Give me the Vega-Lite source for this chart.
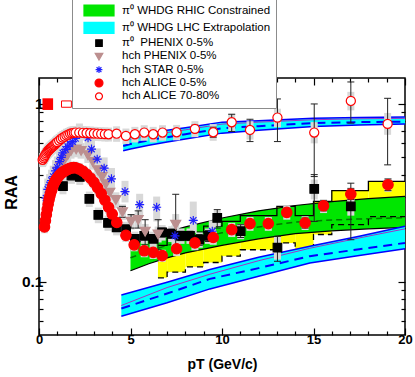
{
"$schema": "https://vega.github.io/schema/vega-lite/v6.json",
"width": 366, "height": 257,
"autosize": "none",
"padding": {"left": 39, "top": 78, "right": 10, "bottom": 42},
"config": {"view": {"stroke": "black", "strokeWidth": 1.5}, "font": "Liberation Sans",
  "axis": {"labelFont": "Liberation Sans", "titleFont": "Liberation Sans", "labelColor": "black", "titleColor": "black", "tickColor": "black", "grid": false, "domain": false}},
"datasets": {
"pts": [
{"s":"π⁰\u00a0 PHENIX 0-5%","x":1.31,"y":0.345,"lo":0.31,"hi":0.38},
{"s":"π⁰\u00a0 PHENIX 0-5%","x":1.77,"y":0.395,"lo":0.355,"hi":0.435},
{"s":"π⁰\u00a0 PHENIX 0-5%","x":2.23,"y":0.388,"lo":0.35,"hi":0.427},
{"s":"π⁰\u00a0 PHENIX 0-5%","x":2.75,"y":0.292,"lo":0.263,"hi":0.321},
{"s":"π⁰\u00a0 PHENIX 0-5%","x":3.24,"y":0.237,"lo":0.213,"hi":0.261},
{"s":"π⁰\u00a0 PHENIX 0-5%","x":3.77,"y":0.214,"lo":0.193,"hi":0.235},
{"s":"π⁰\u00a0 PHENIX 0-5%","x":4.24,"y":0.202,"lo":0.182,"hi":0.222},
{"s":"π⁰\u00a0 PHENIX 0-5%","x":4.76,"y":0.197,"lo":0.177,"hi":0.217},
{"s":"π⁰\u00a0 PHENIX 0-5%","x":5.24,"y":0.174,"lo":0.157,"hi":0.191},
{"s":"π⁰\u00a0 PHENIX 0-5%","x":5.75,"y":0.181,"lo":0.163,"hi":0.199},
{"s":"π⁰\u00a0 PHENIX 0-5%","x":6.24,"y":0.174,"lo":0.157,"hi":0.191},
{"s":"π⁰\u00a0 PHENIX 0-5%","x":6.73,"y":0.189,"lo":0.17,"hi":0.208,"elo":0.178,"ehi":0.2},
{"s":"π⁰\u00a0 PHENIX 0-5%","x":7.25,"y":0.186,"lo":0.167,"hi":0.205,"elo":0.175,"ehi":0.197},
{"s":"π⁰\u00a0 PHENIX 0-5%","x":7.76,"y":0.181,"lo":0.163,"hi":0.199,"elo":0.17,"ehi":0.192},
{"s":"π⁰\u00a0 PHENIX 0-5%","x":8.25,"y":0.181,"lo":0.163,"hi":0.199,"elo":0.17,"ehi":0.192},
{"s":"π⁰\u00a0 PHENIX 0-5%","x":8.76,"y":0.172,"lo":0.155,"hi":0.189,"elo":0.16,"ehi":0.184},
{"s":"π⁰\u00a0 PHENIX 0-5%","x":9.25,"y":0.181,"lo":0.163,"hi":0.199,"elo":0.168,"ehi":0.194},
{"s":"π⁰\u00a0 PHENIX 0-5%","x":9.74,"y":0.228,"lo":0.205,"hi":0.251,"elo":0.2,"ehi":0.254},
{"s":"π⁰\u00a0 PHENIX 0-5%","x":11.02,"y":0.192,"lo":0.173,"hi":0.211,"elo":0.177,"ehi":0.209},
{"s":"π⁰\u00a0 PHENIX 0-5%","x":13.03,"y":0.155,"lo":0.133,"hi":0.178,"elo":0.13,"ehi":0.18},
{"s":"π⁰\u00a0 PHENIX 0-5%","x":15.04,"y":0.332,"lo":0.29,"hi":0.375,"elo":0.218,"ehi":0.4},
{"s":"π⁰\u00a0 PHENIX 0-5%","x":17.04,"y":0.265,"lo":0.235,"hi":0.3,"elo":0.172,"ehi":0.358},
{"s":"hch PHENIX 0-5%","x":1.03,"y":0.417,"lo":0.375,"hi":0.459},
{"s":"hch PHENIX 0-5%","x":1.17,"y":0.445,"lo":0.4,"hi":0.49},
{"s":"hch PHENIX 0-5%","x":1.3,"y":0.474,"lo":0.427,"hi":0.521},
{"s":"hch PHENIX 0-5%","x":1.44,"y":0.497,"lo":0.447,"hi":0.547},
{"s":"hch PHENIX 0-5%","x":1.57,"y":0.517,"lo":0.465,"hi":0.569},
{"s":"hch PHENIX 0-5%","x":1.75,"y":0.547,"lo":0.492,"hi":0.602},
{"s":"hch PHENIX 0-5%","x":2.03,"y":0.557,"lo":0.501,"hi":0.613},
{"s":"hch PHENIX 0-5%","x":2.3,"y":0.547,"lo":0.492,"hi":0.602},
{"s":"hch PHENIX 0-5%","x":2.67,"y":0.517,"lo":0.465,"hi":0.569},
{"s":"hch PHENIX 0-5%","x":2.94,"y":0.474,"lo":0.427,"hi":0.521},
{"s":"hch PHENIX 0-5%","x":3.21,"y":0.426,"lo":0.383,"hi":0.469},
{"s":"hch PHENIX 0-5%","x":3.45,"y":0.39,"lo":0.351,"hi":0.429},
{"s":"hch PHENIX 0-5%","x":3.65,"y":0.355,"lo":0.32,"hi":0.39},
{"s":"hch PHENIX 0-5%","x":3.87,"y":0.318,"lo":0.286,"hi":0.35},
{"s":"hch PHENIX 0-5%","x":4.2,"y":0.289,"lo":0.26,"hi":0.318},
{"s":"hch PHENIX 0-5%","x":4.56,"y":0.247,"lo":0.222,"hi":0.272,"elo":0.23,"ehi":0.265},
{"s":"hch PHENIX 0-5%","x":5.03,"y":0.218,"lo":0.196,"hi":0.24,"elo":0.2,"ehi":0.238},
{"s":"hch PHENIX 0-5%","x":5.42,"y":0.223,"lo":0.2,"hi":0.245,"elo":0.2,"ehi":0.25},
{"s":"hch PHENIX 0-5%","x":5.8,"y":0.192,"lo":0.173,"hi":0.211,"elo":0.161,"ehi":0.223},
{"s":"hch PHENIX 0-5%","x":6.51,"y":0.185,"lo":0.166,"hi":0.204,"elo":0.151,"ehi":0.223},
{"s":"hch PHENIX 0-5%","x":7.47,"y":0.21,"lo":0.185,"hi":0.24,"elo":0.15,"ehi":0.31},
{"s":"hch STAR 0-5%","x":0.38,"y":0.295,"lo":0.256,"hi":0.339},
{"s":"hch STAR 0-5%","x":0.48,"y":0.33,"lo":0.287,"hi":0.38},
{"s":"hch STAR 0-5%","x":0.58,"y":0.35,"lo":0.304,"hi":0.403},
{"s":"hch STAR 0-5%","x":0.68,"y":0.37,"lo":0.322,"hi":0.426},
{"s":"hch STAR 0-5%","x":0.78,"y":0.39,"lo":0.339,"hi":0.449},
{"s":"hch STAR 0-5%","x":0.9,"y":0.42,"lo":0.365,"hi":0.483},
{"s":"hch STAR 0-5%","x":1.0,"y":0.44,"lo":0.383,"hi":0.506},
{"s":"hch STAR 0-5%","x":1.12,"y":0.474,"lo":0.412,"hi":0.545},
{"s":"hch STAR 0-5%","x":1.22,"y":0.5,"lo":0.435,"hi":0.575},
{"s":"hch STAR 0-5%","x":1.3,"y":0.53,"lo":0.461,"hi":0.61},
{"s":"hch STAR 0-5%","x":1.45,"y":0.555,"lo":0.483,"hi":0.638},
{"s":"hch STAR 0-5%","x":1.57,"y":0.576,"lo":0.5,"hi":0.662},
{"s":"hch STAR 0-5%","x":1.7,"y":0.595,"lo":0.517,"hi":0.684},
{"s":"hch STAR 0-5%","x":1.84,"y":0.614,"lo":0.534,"hi":0.706},
{"s":"hch STAR 0-5%","x":2.0,"y":0.64,"lo":0.557,"hi":0.736},
{"s":"hch STAR 0-5%","x":2.21,"y":0.675,"lo":0.587,"hi":0.776},
{"s":"hch STAR 0-5%","x":2.68,"y":0.645,"lo":0.561,"hi":0.742},
{"s":"hch STAR 0-5%","x":2.87,"y":0.557,"lo":0.484,"hi":0.641},
{"s":"hch STAR 0-5%","x":3.18,"y":0.489,"lo":0.425,"hi":0.562},
{"s":"hch STAR 0-5%","x":3.56,"y":0.435,"lo":0.378,"hi":0.5},
{"s":"hch STAR 0-5%","x":3.96,"y":0.379,"lo":0.33,"hi":0.436},
{"s":"hch STAR 0-5%","x":4.7,"y":0.321,"lo":0.279,"hi":0.369},
{"s":"hch STAR 0-5%","x":5.5,"y":0.271,"lo":0.236,"hi":0.312},
{"s":"hch STAR 0-5%","x":6.43,"y":0.262,"lo":0.218,"hi":0.301},
{"s":"hch STAR 0-5%","x":7.43,"y":0.181,"lo":0.157,"hi":0.208},
{"s":"hch STAR 0-5%","x":8.43,"y":0.221,"lo":0.188,"hi":0.282},
{"s":"hch STAR 0-5%","x":9.47,"y":0.192,"lo":0.163,"hi":0.221},
{"s":"hch ALICE 70-80%","x":0.2,"y":0.485,"lo":0.441,"hi":0.529},
{"s":"hch ALICE 70-80%","x":0.25,"y":0.495,"lo":0.45,"hi":0.54},
{"s":"hch ALICE 70-80%","x":0.3,"y":0.506,"lo":0.46,"hi":0.552},
{"s":"hch ALICE 70-80%","x":0.35,"y":0.517,"lo":0.47,"hi":0.564},
{"s":"hch ALICE 70-80%","x":0.4,"y":0.527,"lo":0.48,"hi":0.574},
{"s":"hch ALICE 70-80%","x":0.45,"y":0.537,"lo":0.489,"hi":0.585},
{"s":"hch ALICE 70-80%","x":0.5,"y":0.545,"lo":0.496,"hi":0.594},
{"s":"hch ALICE 70-80%","x":0.55,"y":0.552,"lo":0.502,"hi":0.602},
{"s":"hch ALICE 70-80%","x":0.6,"y":0.558,"lo":0.508,"hi":0.608},
{"s":"hch ALICE 70-80%","x":0.65,"y":0.565,"lo":0.514,"hi":0.616},
{"s":"hch ALICE 70-80%","x":0.7,"y":0.571,"lo":0.52,"hi":0.622},
{"s":"hch ALICE 70-80%","x":0.75,"y":0.577,"lo":0.525,"hi":0.629},
{"s":"hch ALICE 70-80%","x":0.8,"y":0.583,"lo":0.531,"hi":0.635},
{"s":"hch ALICE 70-80%","x":0.85,"y":0.588,"lo":0.535,"hi":0.641},
{"s":"hch ALICE 70-80%","x":0.9,"y":0.596,"lo":0.542,"hi":0.65},
{"s":"hch ALICE 70-80%","x":0.95,"y":0.603,"lo":0.549,"hi":0.657},
{"s":"hch ALICE 70-80%","x":1.0,"y":0.61,"lo":0.555,"hi":0.665},
{"s":"hch ALICE 70-80%","x":1.1,"y":0.622,"lo":0.566,"hi":0.678},
{"s":"hch ALICE 70-80%","x":1.2,"y":0.635,"lo":0.578,"hi":0.692},
{"s":"hch ALICE 70-80%","x":1.3,"y":0.646,"lo":0.588,"hi":0.704},
{"s":"hch ALICE 70-80%","x":1.4,"y":0.655,"lo":0.596,"hi":0.714},
{"s":"hch ALICE 70-80%","x":1.5,"y":0.665,"lo":0.605,"hi":0.725},
{"s":"hch ALICE 70-80%","x":1.6,"y":0.672,"lo":0.612,"hi":0.732},
{"s":"hch ALICE 70-80%","x":1.7,"y":0.68,"lo":0.619,"hi":0.741},
{"s":"hch ALICE 70-80%","x":1.8,"y":0.685,"lo":0.623,"hi":0.747},
{"s":"hch ALICE 70-80%","x":1.9,"y":0.688,"lo":0.626,"hi":0.75},
{"s":"hch ALICE 70-80%","x":2.0,"y":0.69,"lo":0.628,"hi":0.752},
{"s":"hch ALICE 70-80%","x":2.2,"y":0.69,"lo":0.628,"hi":0.752},
{"s":"hch ALICE 70-80%","x":2.4,"y":0.688,"lo":0.626,"hi":0.75},
{"s":"hch ALICE 70-80%","x":2.6,"y":0.686,"lo":0.624,"hi":0.748},
{"s":"hch ALICE 70-80%","x":2.8,"y":0.684,"lo":0.622,"hi":0.746},
{"s":"hch ALICE 70-80%","x":3.0,"y":0.682,"lo":0.621,"hi":0.743},
{"s":"hch ALICE 70-80%","x":3.2,"y":0.68,"lo":0.619,"hi":0.741},
{"s":"hch ALICE 70-80%","x":3.4,"y":0.678,"lo":0.617,"hi":0.739},
{"s":"hch ALICE 70-80%","x":3.6,"y":0.676,"lo":0.615,"hi":0.737},
{"s":"hch ALICE 70-80%","x":3.8,"y":0.675,"lo":0.614,"hi":0.736},
{"s":"hch ALICE 70-80%","x":4.24,"y":0.68,"lo":0.612,"hi":0.748},
{"s":"hch ALICE 70-80%","x":4.75,"y":0.661,"lo":0.595,"hi":0.727},
{"s":"hch ALICE 70-80%","x":5.24,"y":0.675,"lo":0.607,"hi":0.743},
{"s":"hch ALICE 70-80%","x":5.75,"y":0.69,"lo":0.621,"hi":0.759},
{"s":"hch ALICE 70-80%","x":6.24,"y":0.675,"lo":0.607,"hi":0.743},
{"s":"hch ALICE 70-80%","x":6.75,"y":0.69,"lo":0.621,"hi":0.759},
{"s":"hch ALICE 70-80%","x":7.52,"y":0.693,"lo":0.624,"hi":0.762},
{"s":"hch ALICE 70-80%","x":8.52,"y":0.724,"lo":0.65,"hi":0.8,"elo":0.69,"ehi":0.76},
{"s":"hch ALICE 70-80%","x":9.52,"y":0.693,"lo":0.62,"hi":0.77,"elo":0.65,"ehi":0.74},
{"s":"hch ALICE 70-80%","x":10.53,"y":0.789,"lo":0.7,"hi":0.88,"elo":0.7,"ehi":0.875},
{"s":"hch ALICE 70-80%","x":11.53,"y":0.714,"lo":0.63,"hi":0.8,"elo":0.614,"ehi":0.82},
{"s":"hch ALICE 70-80%","x":13.03,"y":0.838,"lo":0.74,"hi":0.94,"elo":0.614,"ehi":1.067},
{"s":"hch ALICE 70-80%","x":15.04,"y":0.69,"lo":0.6,"hi":0.79,"elo":0.39,"ehi":1.0},
{"s":"hch ALICE 70-80%","x":17.04,"y":1.04,"lo":0.92,"hi":1.17,"elo":0.78,"ehi":1.33},
{"s":"hch ALICE 70-80%","x":19.05,"y":0.772,"lo":0.67,"hi":0.89,"elo":0.454,"ehi":1.076},
{"s":"hch ALICE 0-5%","x":0.3,"y":0.203,"lo":0.187,"hi":0.219},
{"s":"hch ALICE 0-5%","x":0.35,"y":0.22,"lo":0.202,"hi":0.238},
{"s":"hch ALICE 0-5%","x":0.4,"y":0.238,"lo":0.219,"hi":0.257},
{"s":"hch ALICE 0-5%","x":0.45,"y":0.255,"lo":0.235,"hi":0.275},
{"s":"hch ALICE 0-5%","x":0.5,"y":0.272,"lo":0.25,"hi":0.294},
{"s":"hch ALICE 0-5%","x":0.55,"y":0.29,"lo":0.267,"hi":0.313},
{"s":"hch ALICE 0-5%","x":0.6,"y":0.305,"lo":0.281,"hi":0.329},
{"s":"hch ALICE 0-5%","x":0.65,"y":0.318,"lo":0.293,"hi":0.343},
{"s":"hch ALICE 0-5%","x":0.7,"y":0.33,"lo":0.304,"hi":0.356},
{"s":"hch ALICE 0-5%","x":0.75,"y":0.343,"lo":0.316,"hi":0.37},
{"s":"hch ALICE 0-5%","x":0.8,"y":0.353,"lo":0.325,"hi":0.381},
{"s":"hch ALICE 0-5%","x":0.85,"y":0.362,"lo":0.333,"hi":0.391},
{"s":"hch ALICE 0-5%","x":0.9,"y":0.37,"lo":0.34,"hi":0.4},
{"s":"hch ALICE 0-5%","x":0.95,"y":0.377,"lo":0.347,"hi":0.407},
{"s":"hch ALICE 0-5%","x":1.0,"y":0.383,"lo":0.352,"hi":0.414},
{"s":"hch ALICE 0-5%","x":1.1,"y":0.395,"lo":0.363,"hi":0.427},
{"s":"hch ALICE 0-5%","x":1.2,"y":0.405,"lo":0.373,"hi":0.437},
{"s":"hch ALICE 0-5%","x":1.3,"y":0.413,"lo":0.38,"hi":0.446},
{"s":"hch ALICE 0-5%","x":1.4,"y":0.419,"lo":0.385,"hi":0.453},
{"s":"hch ALICE 0-5%","x":1.5,"y":0.425,"lo":0.391,"hi":0.459},
{"s":"hch ALICE 0-5%","x":1.6,"y":0.43,"lo":0.396,"hi":0.464},
{"s":"hch ALICE 0-5%","x":1.7,"y":0.434,"lo":0.399,"hi":0.469},
{"s":"hch ALICE 0-5%","x":1.8,"y":0.437,"lo":0.402,"hi":0.472},
{"s":"hch ALICE 0-5%","x":1.9,"y":0.438,"lo":0.403,"hi":0.473},
{"s":"hch ALICE 0-5%","x":2.0,"y":0.437,"lo":0.402,"hi":0.472},
{"s":"hch ALICE 0-5%","x":2.2,"y":0.43,"lo":0.396,"hi":0.464},
{"s":"hch ALICE 0-5%","x":2.4,"y":0.418,"lo":0.385,"hi":0.451},
{"s":"hch ALICE 0-5%","x":2.6,"y":0.402,"lo":0.37,"hi":0.434},
{"s":"hch ALICE 0-5%","x":2.8,"y":0.383,"lo":0.352,"hi":0.414},
{"s":"hch ALICE 0-5%","x":3.0,"y":0.362,"lo":0.333,"hi":0.391},
{"s":"hch ALICE 0-5%","x":3.2,"y":0.338,"lo":0.311,"hi":0.365},
{"s":"hch ALICE 0-5%","x":3.4,"y":0.313,"lo":0.288,"hi":0.338},
{"s":"hch ALICE 0-5%","x":3.6,"y":0.287,"lo":0.264,"hi":0.31},
{"s":"hch ALICE 0-5%","x":3.8,"y":0.262,"lo":0.241,"hi":0.283},
{"s":"hch ALICE 0-5%","x":4.0,"y":0.24,"lo":0.221,"hi":0.259},
{"s":"hch ALICE 0-5%","x":4.25,"y":0.215,"lo":0.198,"hi":0.232},
{"s":"hch ALICE 0-5%","x":4.75,"y":0.182,"lo":0.167,"hi":0.197},
{"s":"hch ALICE 0-5%","x":5.2,"y":0.161,"lo":0.148,"hi":0.174},
{"s":"hch ALICE 0-5%","x":5.75,"y":0.149,"lo":0.137,"hi":0.161},
{"s":"hch ALICE 0-5%","x":6.24,"y":0.146,"lo":0.134,"hi":0.158},
{"s":"hch ALICE 0-5%","x":6.73,"y":0.14,"lo":0.129,"hi":0.151},
{"s":"hch ALICE 0-5%","x":7.52,"y":0.153,"lo":0.139,"hi":0.167},
{"s":"hch ALICE 0-5%","x":8.52,"y":0.165,"lo":0.15,"hi":0.18},
{"s":"hch ALICE 0-5%","x":9.52,"y":0.177,"lo":0.161,"hi":0.193},
{"s":"hch ALICE 0-5%","x":10.53,"y":0.196,"lo":0.178,"hi":0.214},
{"s":"hch ALICE 0-5%","x":11.53,"y":0.212,"lo":0.193,"hi":0.231},
{"s":"hch ALICE 0-5%","x":12.53,"y":0.212,"lo":0.193,"hi":0.231},
{"s":"hch ALICE 0-5%","x":13.54,"y":0.245,"lo":0.223,"hi":0.267,"elo":0.232,"ehi":0.258},
{"s":"hch ALICE 0-5%","x":14.54,"y":0.214,"lo":0.195,"hi":0.233,"elo":0.2,"ehi":0.228},
{"s":"hch ALICE 0-5%","x":15.55,"y":0.267,"lo":0.243,"hi":0.291,"elo":0.25,"ehi":0.285},
{"s":"hch ALICE 0-5%","x":17.04,"y":0.311,"lo":0.283,"hi":0.339,"elo":0.29,"ehi":0.333},
{"s":"hch ALICE 0-5%","x":19.07,"y":0.351,"lo":0.32,"hi":0.382,"elo":0.325,"ehi":0.378}
],
"bands": [
{"b":"c1","x":4.6,"hi":0.64,"pur":0.615,"mid":0.58,"lo":0.545},
{"b":"c1","x":5,"hi":0.655,"pur":0.63,"mid":0.595,"lo":0.558},
{"b":"c1","x":6,"hi":0.685,"pur":0.66,"mid":0.625,"lo":0.585},
{"b":"c1","x":7,"hi":0.71,"pur":0.69,"mid":0.65,"lo":0.61},
{"b":"c1","x":8,"hi":0.735,"pur":0.715,"mid":0.675,"lo":0.635},
{"b":"c1","x":10,"hi":0.79,"pur":0.77,"mid":0.73,"lo":0.685},
{"b":"c1","x":12,"hi":0.805,"pur":0.79,"mid":0.75,"lo":0.71},
{"b":"c1","x":15,"hi":0.83,"pur":0.815,"mid":0.78,"lo":0.746},
{"b":"c1","x":17.5,"hi":0.84,"pur":0.825,"mid":0.79,"lo":0.76},
{"b":"c1","x":20,"hi":0.845,"pur":0.83,"mid":0.795,"lo":0.772},
{"b":"c2","x":4.5,"hi":0.084,"pur":0.0733,"mid":0.0705,"lo":0.0638},
{"b":"c2","x":7,"hi":0.099,"pur":0.0925,"mid":0.0856,"lo":0.0759},
{"b":"c2","x":9.34,"hi":0.117,"pur":0.11,"mid":0.1035,"lo":0.0909},
{"b":"c2","x":12,"hi":0.137,"pur":0.131,"mid":0.119,"lo":0.107},
{"b":"c2","x":14.8,"hi":0.158,"pur":0.154,"mid":0.139,"lo":0.127},
{"b":"c2","x":17.5,"hi":0.18,"pur":0.176,"mid":0.152,"lo":0.14},
{"b":"c2","x":20,"hi":0.205,"pur":0.198,"mid":0.165,"lo":0.153},
{"b":"g","x":5,"hi":0.16,"mid":0.136,"lo":0.115},
{"b":"g","x":6,"hi":0.175,"mid":0.148,"lo":0.126},
{"b":"g","x":7,"hi":0.19,"mid":0.16,"lo":0.136},
{"b":"g","x":8,"hi":0.203,"mid":0.17,"lo":0.145},
{"b":"g","x":10,"hi":0.228,"mid":0.188,"lo":0.16},
{"b":"g","x":12,"hi":0.25,"mid":0.203,"lo":0.174},
{"b":"g","x":14,"hi":0.268,"mid":0.216,"lo":0.186},
{"b":"g","x":16,"hi":0.282,"mid":0.222,"lo":0.193},
{"b":"g","x":18,"hi":0.293,"mid":0.226,"lo":0.198},
{"b":"g","x":20,"hi":0.302,"mid":0.229,"lo":0.202}
],
"yel": [
{"x":6.5,"x2":7,"lo":0.105,"hi":0.16},
{"x":7,"x2":8,"lo":0.113,"hi":0.175},
{"x":8,"x2":9,"lo":0.121,"hi":0.19},
{"x":9,"x2":10,"lo":0.128,"hi":0.205},
{"x":10,"x2":11,"lo":0.139,"hi":0.218},
{"x":11,"x2":13,"lo":0.151,"hi":0.235},
{"x":13,"x2":14,"lo":0.165,"hi":0.265},
{"x":14,"x2":15,"lo":0.148,"hi":0.235},
{"x":15,"x2":16,"lo":0.184,"hi":0.283},
{"x":16,"x2":18,"lo":0.209,"hi":0.325},
{"x":18,"x2":20,"lo":0.232,"hi":0.366}
],
"ystep": [
{"x":6.5,"lo":0.105,"hi":0.16},
{"x":7,"lo":0.113,"hi":0.175},
{"x":8,"lo":0.121,"hi":0.19},
{"x":9,"lo":0.128,"hi":0.205},
{"x":10,"lo":0.139,"hi":0.218},
{"x":11,"lo":0.151,"hi":0.235},
{"x":13,"lo":0.165,"hi":0.265},
{"x":14,"lo":0.148,"hi":0.235},
{"x":15,"lo":0.184,"hi":0.283},
{"x":16,"lo":0.209,"hi":0.325},
{"x":18,"lo":0.232,"hi":0.366},
{"x":20,"lo":0.232,"hi":0.366}
],
"norm": [
{"k":"f","x":0.19,"x2":0.77,"lo":0.925,"hi":1.076},
{"k":"o","x":1.23,"x2":1.77,"lo":0.958,"hi":1.04}
]
},
"layer": [
{"data":{"name":"yel"},"mark":{"type":"rect","color":"#ffff00"},
 "encoding":{
  "x":{"field":"x","type":"quantitative","scale":{"domain":[0,20],"nice":false,"zero":false},
   "axis":{"orient":"bottom","values":[0,1,2,3,4,5,6,7,8,9,10,11,12,13,14,15,16,17,18,19,20],
     "labelExpr":"datum.value % 5 === 0 ? datum.label : ''","format":"d","labelFlush":false,"labelOverlap":false,
     "tickSize":{"condition":{"test":"datum.value % 5 === 0","value":-7},"value":-4},"tickWidth":1.2,
     "labelFontWeight":"bold","labelFontSize":13,"labelPadding":5,
     "title":"pT (GeV/c)","titleFontWeight":"bold","titleFontSize":14,"titleY":29,"titleBaseline":"middle"}},
  "x2":{"field":"x2"},
  "y":{"field":"lo","type":"quantitative","scale":{"type":"log","domain":[0.05,1.4],"nice":false},
   "axis":{"orient":"left","values":[0.06,0.07,0.08,0.09,0.1,0.2,0.3,0.4,0.5,0.6,0.7,0.8,0.9,1],
     "labelExpr":"datum.value === 1 ? '1' : (datum.value === 0.1 ? '0.1' : '')","labelOverlap":false,
     "tickSize":{"condition":{"test":"datum.value === 1 || datum.value === 0.1","value":-7},"value":-4},"tickWidth":1.2,
     "labelFontWeight":"bold","labelFontSize":15.5,"labelPadding":3,
     "title":"RAA","titleFontWeight":"bold","titleFontSize":16,"titleX":-28,"titleY":114,"titleBaseline":"middle","titleAngle":-90}},
  "y2":{"field":"hi"}}},
{"data":{"name":"bands"},"transform":[{"filter":"datum.b === 'g'"}],"mark":{"type":"area","color":"#00e600","opacity":1},
 "encoding":{"x":{"field":"x","type":"quantitative","scale":{"domain":[0,20]},"axis":null},
  "y":{"field":"hi","type":"quantitative","scale":{"type":"log","domain":[0.05,1.4]},"axis":null},"y2":{"field":"lo"}}},
{"data":{"name":"bands"},"transform":[{"filter":"datum.b === 'g'"}],"mark":{"type":"line","color":"black","strokeWidth":1.2},
 "encoding":{"x":{"field":"x","type":"quantitative","scale":{"domain":[0,20]},
   "axis":{"orient":"top","values":[0,1,2,3,4,5,6,7,8,9,10,11,12,13,14,15,16,17,18,19,20],"labels":false,"title":null,
     "tickSize":{"condition":{"test":"datum.value % 5 === 0","value":-7},"value":-4},"tickWidth":1.2}},
  "y":{"field":"hi","type":"quantitative","scale":{"type":"log","domain":[0.05,1.4]},
   "axis":{"orient":"right","values":[0.06,0.07,0.08,0.09,0.1,0.2,0.3,0.4,0.5,0.6,0.7,0.8,0.9,1],"labels":false,"title":null,
     "tickSize":{"condition":{"test":"datum.value === 1 || datum.value === 0.1","value":-7},"value":-4},"tickWidth":1.2}}}},
{"data":{"name":"bands"},"transform":[{"filter":"datum.b === 'g'"}],"mark":{"type":"line","color":"black","strokeWidth":1.2},
 "encoding":{"x":{"field":"x","type":"quantitative","scale":{"domain":[0,20]},"axis":null},
  "y":{"field":"lo","type":"quantitative","scale":{"type":"log","domain":[0.05,1.4]},"axis":null}}},
{"data":{"name":"bands"},"transform":[{"filter":"datum.b === 'g'"}],"mark":{"type":"line","color":"#007800","strokeWidth":1.5,"strokeDash":[6,4]},
 "encoding":{"x":{"field":"x","type":"quantitative","scale":{"domain":[0,20]},"axis":null},
  "y":{"field":"mid","type":"quantitative","scale":{"type":"log","domain":[0.05,1.4]},"axis":null}}},
{"data":{"name":"ystep"},"mark":{"type":"line","color":"black","strokeWidth":1.3,"interpolate":"step-after"},
 "encoding":{"x":{"field":"x","type":"quantitative","scale":{"domain":[0,20]},"axis":null},
  "y":{"field":"hi","type":"quantitative","scale":{"type":"log","domain":[0.05,1.4]},"axis":null}}},
{"data":{"name":"ystep"},"mark":{"type":"line","color":"black","strokeWidth":1.3,"interpolate":"step-after","strokeDash":[6,4]},
 "encoding":{"x":{"field":"x","type":"quantitative","scale":{"domain":[0,20]},"axis":null},
  "y":{"field":"lo","type":"quantitative","scale":{"type":"log","domain":[0.05,1.4]},"axis":null}}},
{"data":{"name":"bands"},"transform":[{"filter":"datum.b !== 'g'"}],"mark":{"type":"area","color":"#00ffff","opacity":1},
 "encoding":{"x":{"field":"x","type":"quantitative","scale":{"domain":[0,20]},"axis":null},
  "y":{"field":"hi","type":"quantitative","scale":{"type":"log","domain":[0.05,1.4]},"axis":null},"y2":{"field":"lo"},
  "detail":{"field":"b"}}},
{"data":{"name":"bands"},"transform":[{"filter":"datum.b !== 'g'"}],"mark":{"type":"line","color":"#0000ff","strokeWidth":1.5},
 "encoding":{"x":{"field":"x","type":"quantitative","scale":{"domain":[0,20]},"axis":null},
  "y":{"field":"hi","type":"quantitative","scale":{"type":"log","domain":[0.05,1.4]},"axis":null},"detail":{"field":"b"}}},
{"data":{"name":"bands"},"transform":[{"filter":"datum.b !== 'g'"}],"mark":{"type":"line","color":"#0000ff","strokeWidth":1.5},
 "encoding":{"x":{"field":"x","type":"quantitative","scale":{"domain":[0,20]},"axis":null},
  "y":{"field":"lo","type":"quantitative","scale":{"type":"log","domain":[0.05,1.4]},"axis":null},"detail":{"field":"b"}}},
{"data":{"name":"bands"},"transform":[{"filter":"datum.b !== 'g'"}],"mark":{"type":"line","color":"#a030c8","strokeWidth":1},
 "encoding":{"x":{"field":"x","type":"quantitative","scale":{"domain":[0,20]},"axis":null},
  "y":{"field":"pur","type":"quantitative","scale":{"type":"log","domain":[0.05,1.4]},"axis":null},"detail":{"field":"b"}}},
{"data":{"name":"bands"},"transform":[{"filter":"datum.b !== 'g'"}],"mark":{"type":"line","color":"#0000ff","strokeWidth":2,"strokeDash":[9,6]},
 "encoding":{"x":{"field":"x","type":"quantitative","scale":{"domain":[0,20]},"axis":null},
  "y":{"field":"mid","type":"quantitative","scale":{"type":"log","domain":[0.05,1.4]},"axis":null},"detail":{"field":"b"}}},
{"data":{"name":"pts"},"mark":{"type":"rule","color":"#d8d8d8","strokeWidth":7},
 "encoding":{"x":{"field":"x","type":"quantitative","scale":{"domain":[0,20]},"axis":null},
  "y":{"field":"lo","type":"quantitative","scale":{"type":"log","domain":[0.05,1.4]},"axis":null},"y2":{"field":"hi"}}},
{"data":{"name":"pts"},"transform":[{"filter":"isValid(datum.elo)"}],"mark":{"type":"rule","color":"#222222","strokeWidth":1},
 "encoding":{"x":{"field":"x","type":"quantitative","scale":{"domain":[0,20]},"axis":null},
  "y":{"field":"elo","type":"quantitative","scale":{"type":"log","domain":[0.05,1.4]},"axis":null},"y2":{"field":"ehi"}}},
{"data":{"name":"pts"},"transform":[{"filter":"isValid(datum.elo)"}],"mark":{"type":"tick","orient":"horizontal","color":"#222222","size":7,"thickness":1,"opacity":1},
 "encoding":{"x":{"field":"x","type":"quantitative","scale":{"domain":[0,20]},"axis":null},
  "y":{"field":"elo","type":"quantitative","scale":{"type":"log","domain":[0.05,1.4]},"axis":null}}},
{"data":{"name":"pts"},"transform":[{"filter":"isValid(datum.elo)"}],"mark":{"type":"tick","orient":"horizontal","color":"#222222","size":7,"thickness":1,"opacity":1},
 "encoding":{"x":{"field":"x","type":"quantitative","scale":{"domain":[0,20]},"axis":null},
  "y":{"field":"ehi","type":"quantitative","scale":{"type":"log","domain":[0.05,1.4]},"axis":null}}},
{"data":{"name":"norm"},"transform":[{"filter":"datum.k === 'f'"}],"mark":{"type":"rect","color":"#ff0000"},
 "encoding":{"x":{"field":"x","type":"quantitative","scale":{"domain":[0,20]},"axis":null},"x2":{"field":"x2"},
  "y":{"field":"lo","type":"quantitative","scale":{"type":"log","domain":[0.05,1.4]},"axis":null},"y2":{"field":"hi"}}},
{"data":{"name":"norm"},"transform":[{"filter":"datum.k === 'o'"}],"mark":{"type":"rect","fill":"white","stroke":"#ff0000","strokeWidth":1},
 "encoding":{"x":{"field":"x","type":"quantitative","scale":{"domain":[0,20]},"axis":null},"x2":{"field":"x2"},
  "y":{"field":"lo","type":"quantitative","scale":{"type":"log","domain":[0.05,1.4]},"axis":null},"y2":{"field":"hi"}}},
{"data":{"name":"pts"},"mark":{"type":"point","filled":true,"size":210,"strokeWidth":1.2,"opacity":1},
 "encoding":{"x":{"field":"x","type":"quantitative","scale":{"domain":[0,20]},"axis":null},
  "y":{"field":"y","type":"quantitative","scale":{"type":"log","domain":[0.05,1.4]},"axis":null},
  "fill":{"field":"s","type":"nominal",
   "scale":{"domain":["π⁰ WHDG RHIC Constrained","π⁰ WHDG LHC Extrapolation","π⁰\u00a0 PHENIX 0-5%","hch PHENIX 0-5%","hch STAR 0-5%","hch ALICE 0-5%","hch ALICE 70-80%"],
     "range":["#00e600","#00ffff","#000000","#bc8f8f","transparent","#ff0000","#ffffff"]},
   "legend":{"orient":"none","legendX":33,"legendY":-79,"title":null,"labelFontSize":11.5,"labelFont":"Liberation Sans","labelColor":"black","symbolSize":121,"rowPadding":0.3,"padding":5,"strokeColor":"#8c8c8c","fillColor":"white","symbolStrokeWidth":1.2,"labelLimit":0,"symbolOffset":15.5,"labelOffset":16.5}},
  "stroke":{"field":"s","type":"nominal",
   "scale":{"domain":["π⁰ WHDG RHIC Constrained","π⁰ WHDG LHC Extrapolation","π⁰\u00a0 PHENIX 0-5%","hch PHENIX 0-5%","hch STAR 0-5%","hch ALICE 0-5%","hch ALICE 70-80%"],
     "range":["#00e600","#00ffff","#000000","#bc8f8f","#2020ff","#ff0000","#ff0000"]},
   "legend":{"orient":"none","legendX":33,"legendY":-79,"title":null,"labelFontSize":11.5,"labelFont":"Liberation Sans","labelColor":"black","symbolSize":121,"rowPadding":0.3,"padding":5,"strokeColor":"#8c8c8c","fillColor":"white","symbolStrokeWidth":1.2,"labelLimit":0,"symbolOffset":15.5,"labelOffset":16.5}},
  "shape":{"field":"s","type":"nominal",
   "scale":{"domain":["π⁰ WHDG RHIC Constrained","π⁰ WHDG LHC Extrapolation","π⁰\u00a0 PHENIX 0-5%","hch PHENIX 0-5%","hch STAR 0-5%","hch ALICE 0-5%","hch ALICE 70-80%"],
     "range":["M-2.73,-1H2.73V1H-2.73Z","M-2.73,-1H2.73V1H-2.73Z","M-0.59,-0.59H0.59V0.59H-0.59Z","M-0.69,-0.55L0.69,-0.55L0,0.65Z","M-0.62,0H0.62M0,-0.62V0.62M-0.44,-0.44L0.44,0.44M-0.44,0.44L0.44,-0.44","M-0.72,0A0.72,0.72,0,1,1,0.72,0A0.72,0.72,0,1,1,-0.72,0Z","M-0.63,0A0.63,0.63,0,1,1,0.63,0A0.63,0.63,0,1,1,-0.63,0Z"]},
   "legend":{"orient":"none","legendX":33,"legendY":-79,"title":null,"labelFontSize":11.5,"labelFont":"Liberation Sans","labelColor":"black","symbolSize":121,"rowPadding":0.3,"padding":5,"strokeColor":"#8c8c8c","fillColor":"white","symbolStrokeWidth":1.2,"labelLimit":0,"symbolOffset":15.5,"labelOffset":16.5}}}}
],
"resolve": {"axis": {"x": "independent", "y": "independent"}}
}
